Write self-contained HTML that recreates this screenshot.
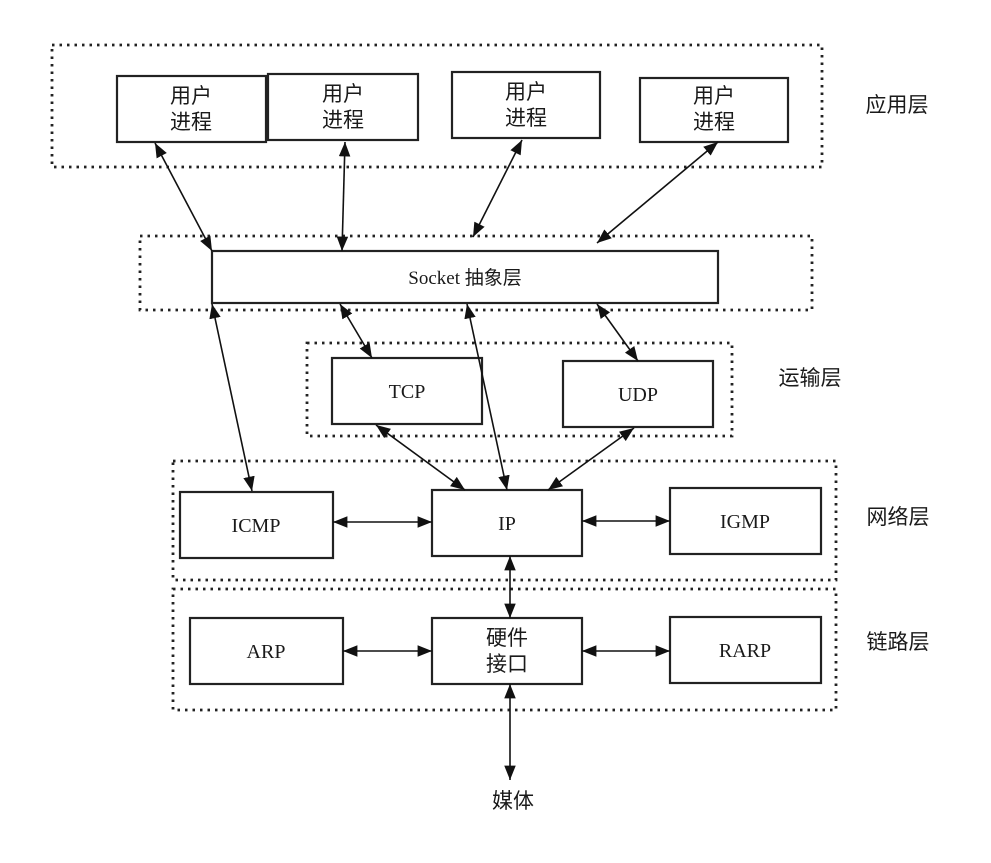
<!DOCTYPE html>
<html><head><meta charset="utf-8"><style>
html,body{margin:0;padding:0;background:#fff}
svg text{font-family:"Liberation Serif","Noto Sans CJK SC",serif;fill:#1a1a1a}
</style></head><body>
<svg width="991" height="858" viewBox="0 0 991 858" xmlns="http://www.w3.org/2000/svg">
<defs>
<marker id="a" viewBox="0 0 10 10" refX="10" refY="5" markerWidth="9" markerHeight="9" orient="auto-start-reverse"><path d="M0,1 L10,5 L0,9 z" fill="#111"/></marker>
</defs>
<g fill="none" stroke="#222" stroke-width="2.8" stroke-dasharray="2.5,5">
<rect x="52" y="45" width="770" height="122"/>
<rect x="140" y="236" width="672" height="74"/>
<rect x="307" y="343" width="425" height="93"/>
<rect x="173" y="461" width="663" height="119"/>
<rect x="173" y="589" width="663" height="121"/>
</g>
<g fill="#fff" stroke="#222" stroke-width="2.2">
<rect x="117" y="76" width="149" height="66"/>
<rect x="268" y="74" width="150" height="66"/>
<rect x="452" y="72" width="148" height="66"/>
<rect x="640" y="78" width="148" height="64"/>
<rect x="212" y="251" width="506" height="52"/>
<rect x="332" y="358" width="150" height="66"/>
<rect x="563" y="361" width="150" height="66"/>
<rect x="180" y="492" width="153" height="66"/>
<rect x="432" y="490" width="150" height="66"/>
<rect x="670" y="488" width="151" height="66"/>
<rect x="190" y="618" width="153" height="66"/>
<rect x="432" y="618" width="150" height="66"/>
<rect x="670" y="617" width="151" height="66"/>
</g>
<g stroke="#111" stroke-width="1.6" marker-start="url(#a)" marker-end="url(#a)">
<line x1="155" y1="143" x2="212" y2="251"/>
<line x1="345" y1="142" x2="342" y2="251"/>
<line x1="522" y1="140" x2="473" y2="237"/>
<line x1="718" y1="142" x2="597" y2="243"/>
<line x1="212" y1="304" x2="252" y2="491"/>
<line x1="340" y1="304" x2="372" y2="358"/>
<line x1="467" y1="304" x2="507" y2="490"/>
<line x1="597" y1="304" x2="638" y2="361"/>
<line x1="376" y1="425" x2="465" y2="490"/>
<line x1="634" y1="428" x2="548" y2="490"/>
<line x1="333" y1="522" x2="432" y2="522"/>
<line x1="582" y1="521" x2="670" y2="521"/>
<line x1="510" y1="556" x2="510" y2="618"/>
<line x1="343" y1="651" x2="432" y2="651"/>
<line x1="582" y1="651" x2="670" y2="651"/>
<line x1="510" y1="684" x2="510" y2="780"/>
</g>
<g font-size="21" text-anchor="middle">
<text x="191" y="103">用户</text><text x="191" y="129">进程</text>
<text x="343" y="101">用户</text><text x="343" y="127">进程</text>
<text x="526" y="99">用户</text><text x="526" y="125">进程</text>
<text x="714" y="103">用户</text><text x="714" y="129">进程</text>
<text x="465" y="284" font-size="19">Socket 抽象层</text>
<text x="407" y="398" font-size="20">TCP</text>
<text x="638" y="401" font-size="20">UDP</text>
<text x="256" y="532" font-size="20">ICMP</text>
<text x="507" y="530" font-size="20">IP</text>
<text x="745" y="528" font-size="20">IGMP</text>
<text x="266" y="658" font-size="20">ARP</text>
<text x="507" y="645">硬件</text><text x="507" y="671">接口</text>
<text x="745" y="657" font-size="20">RARP</text>
<text x="513" y="808">媒体</text>
<text x="897" y="112">应用层</text>
<text x="810" y="385">运输层</text>
<text x="898" y="524">网络层</text>
<text x="898" y="649">链路层</text>
</g>
</svg>
</body></html>
